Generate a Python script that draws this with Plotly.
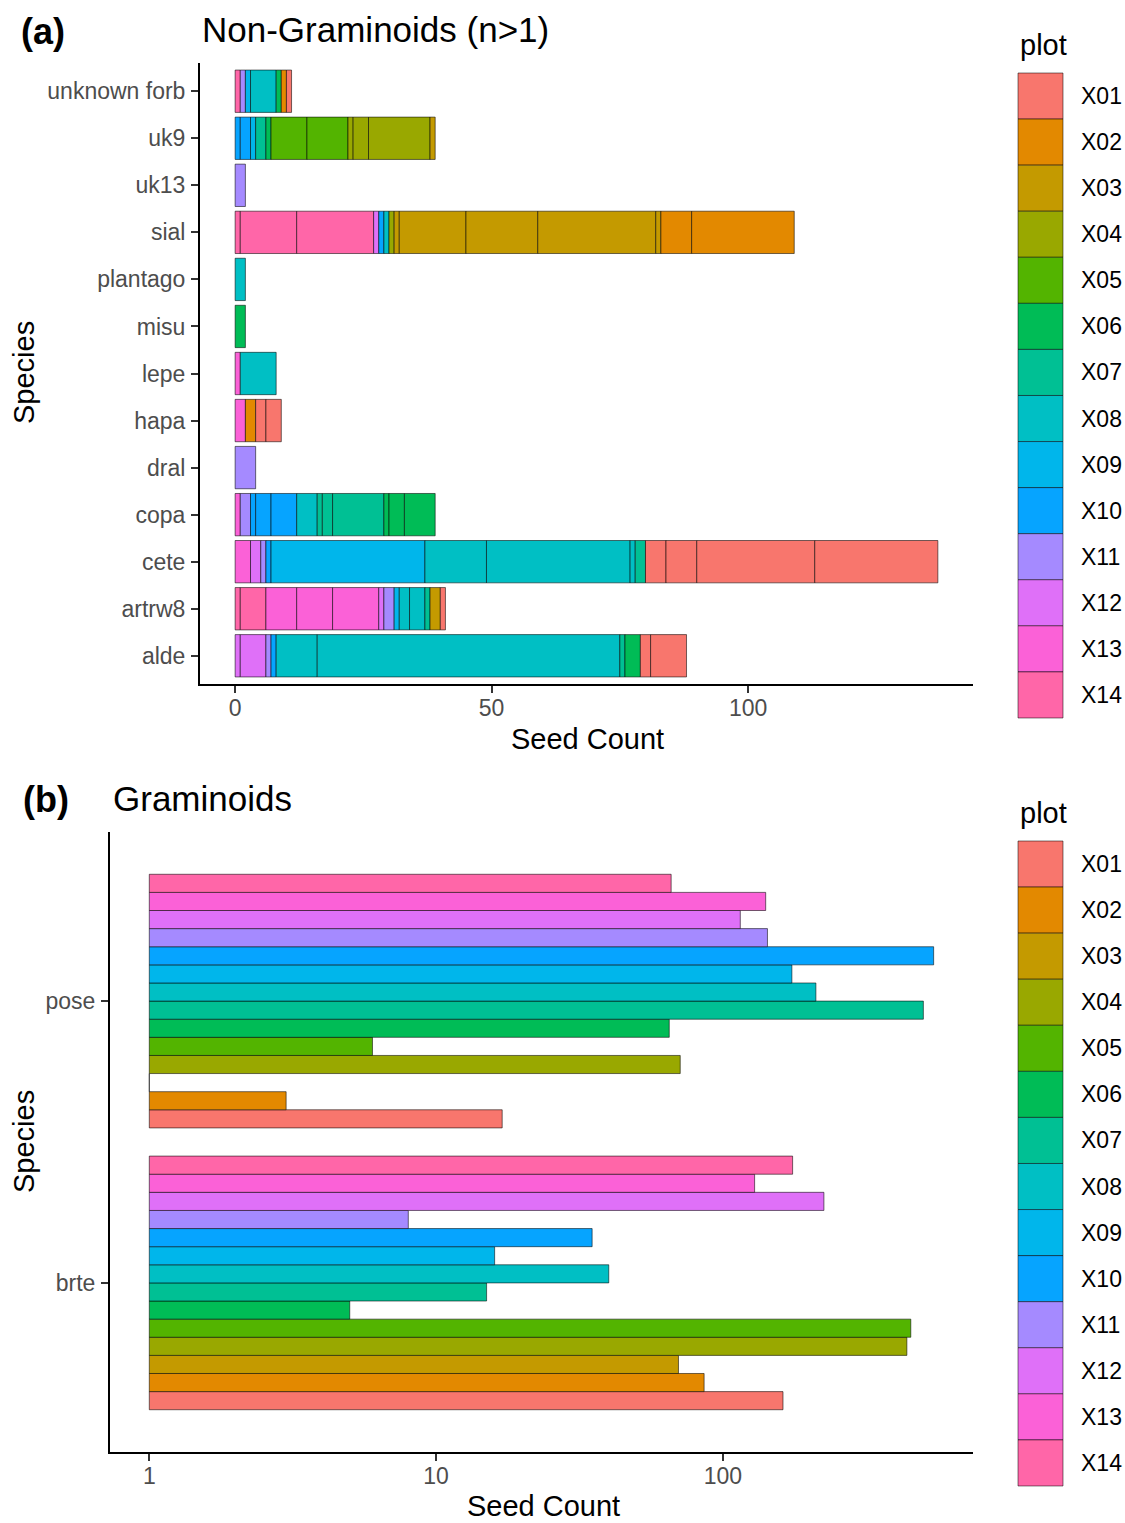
import plotly.graph_objects as go

# ---------------- data ----------------
plot_levels = ["X01", "X02", "X03", "X04", "X05", "X06", "X07",
               "X08", "X09", "X10", "X11", "X12", "X13", "X14"]
plot_colors = ["#F8766D", "#E38900", "#C49A00", "#99A800", "#53B400", "#00BC56", "#00C094",
               "#00BFC4", "#00B6EB", "#06A4FF", "#A58AFF", "#DF70F8", "#FB61D7", "#FF66A8"]

# panel (a): non-graminoid species, bottom to top
species_a = ["alde", "artrw8", "cete", "copa", "dral", "hapa", "lepe",
             "misu", "plantago", "sial", "uk13", "uk9", "unknown forb"]

# long-format observations (stacked left to right within each species)
seg_species = (["unknown forb"] * 7 + ["uk9"] * 11 + ["uk13"] * 1 + ["sial"] * 14 +
               ["plantago"] * 1 + ["misu"] * 1 + ["lepe"] * 2 + ["hapa"] * 4 +
               ["dral"] * 1 + ["copa"] * 12 + ["cete"] * 13 + ["artrw8"] * 13 + ["alde"] * 10)
seg_plot = [
    # unknown forb
    "X14", "X11", "X09", "X08", "X06", "X02", "X01",
    # uk9
    "X10", "X10", "X09", "X07", "X06", "X05", "X05", "X04", "X04", "X04", "X03",
    # uk13
    "X11",
    # sial
    "X14", "X14", "X14", "X12", "X10", "X08", "X04", "X03", "X03", "X03", "X03", "X03", "X02", "X02",
    # plantago
    "X08",
    # misu
    "X06",
    # lepe
    "X13", "X08",
    # hapa
    "X13", "X02", "X01", "X01",
    # dral
    "X11",
    # copa
    "X13", "X11", "X10", "X10", "X10", "X08", "X07", "X07", "X07", "X06", "X06", "X06",
    # cete
    "X13", "X12", "X11", "X10", "X09", "X08", "X08", "X08", "X07", "X01", "X01", "X01", "X01",
    # artrw8
    "X14", "X14", "X13", "X13", "X13", "X12", "X11", "X09", "X08", "X08", "X07", "X03", "X01",
    # alde
    "X12", "X12", "X11", "X10", "X08", "X08", "X07", "X06", "X01", "X01",
]
seg_count = [
    1, 1, 1, 5, 1, 1, 1,
    1, 2, 1, 2, 1, 7, 8, 1, 3, 12, 1,
    2,
    1, 11, 15, 1, 1, 1, 1, 1, 13, 14, 23, 1, 6, 20,
    2,
    2,
    1, 7,
    2, 2, 2, 3,
    4,
    1, 2, 1, 3, 5, 4, 1, 2, 10, 1, 3, 6,
    3, 2, 1, 1, 30, 12, 28, 1, 2, 4, 6, 23, 24,
    1, 5, 6, 7, 9, 1, 2, 1, 2, 3, 1, 2, 1,
    1, 5, 1, 1, 8, 59, 1, 3, 2, 7,
]

# panel (b): graminoids (one value per plot X01..X14)
species_b = ["brte", "pose"]
pose_counts = [17, 3, 1, 71, 6, 65, 500, 211, 174, 543, 143, 115, 141, 66]
brte_counts = [162, 86, 70, 438, 452, 5, 15, 40, 16, 35, 8, 225, 129, 175]

# ---------------- figure ----------------
W, H = 1125, 1523
FONT = "Liberation Sans, Arial, Helvetica, sans-serif"
EDGE = dict(color="rgba(0,0,0,0.55)", width=1)


def xp(px):
    return px / W


def yp(py):
    return 1 - py / H


color_of = dict(zip(plot_levels, plot_colors))
fig = go.Figure()

# panel (a) stacked segments
running = {s: 0 for s in species_a}
for sp, pl, ct in zip(seg_species, seg_plot, seg_count):
    fig.add_trace(go.Bar(
        y=[sp], x=[ct], base=[running[sp]], orientation="h",
        width=0.9, offset=-0.45,
        marker=dict(color=color_of[pl], line=EDGE),
        name=pl, showlegend=False, xaxis="x", yaxis="y",
        hovertemplate=f"{sp} {pl}: {ct}<extra></extra>"))
    running[sp] += ct

# panel (b) dodged bars on log scale
n = len(plot_levels)
bw = 0.9 / n
for i, pl in enumerate(plot_levels):
    vals = [brte_counts[i], pose_counts[i]]
    fig.add_trace(go.Bar(
        y=species_b, x=[v - 1 for v in vals], base=[1, 1], orientation="h",
        width=bw, offset=-0.45 + i * bw,
        marker=dict(color=plot_colors[i], line=EDGE),
        name=pl, showlegend=False, xaxis="x2", yaxis="y2",
        customdata=vals, hovertemplate="%{y} " + pl + ": %{customdata}<extra></extra>"))

axis_common = dict(
    showline=True, linecolor="black", linewidth=2,
    ticks="outside", ticklen=7, tickwidth=2, tickcolor="#333333",
    tickfont=dict(family=FONT, size=23, color="#4D4D4D"),
    showgrid=False, zeroline=False,
)

fig.update_layout(
    width=W, height=H, autosize=False,
    margin=dict(l=0, r=0, t=0, b=0),
    paper_bgcolor="white", plot_bgcolor="white",
    barmode="overlay",
    font=dict(family=FONT, color="black"),
    xaxis=dict(domain=[xp(200), xp(973)], anchor="y", range=[-6.85, 143.85],
               tickvals=[0, 50, 100], ticklabelstandoff=-5, **axis_common),
    yaxis=dict(domain=[yp(684), yp(63)], anchor="x", type="category",
               categoryorder="array", categoryarray=species_a, range=[-0.6, 12.6],
               ticklabelstandoff=1, **axis_common),
    xaxis2=dict(domain=[xp(110), xp(973)], anchor="y2", type="log", range=[-0.137, 2.872],
                tickvals=[1, 10, 100], ticktext=["1", "10", "100"],
                ticklabelstandoff=-5, **axis_common),
    yaxis2=dict(domain=[yp(1452), yp(832)], anchor="x2", type="category",
                categoryorder="array", categoryarray=species_b, range=[-0.6, 1.6],
                ticklabelstandoff=1, **axis_common),
    showlegend=False,
)

ann = []


def text(x, y, s, size, xanchor="left", bold=False, angle=0):
    ann.append(dict(x=xp(x), y=yp(y), xref="paper", yref="paper", text=(f"<b>{s}</b>" if bold else s),
                    showarrow=False, xanchor=xanchor, yanchor="middle", textangle=angle,
                    font=dict(family=FONT, size=size, color="black")))


# titles
text(19, 31, "(a)", 36, bold=True)
text(200, 30, "Non-Graminoids (n&gt;1)", 35)
text(21, 799, "(b)", 36, bold=True)
text(111, 798, "Graminoids", 35)
# axis titles
text(587, 739, "Seed Count", 29, xanchor="center")
text(543, 1506, "Seed Count", 29, xanchor="center")
text(24, 373, "Species", 29, xanchor="center", angle=-90)
text(24, 1142, "Species", 29, xanchor="center", angle=-90)

# legends (drawn as keys)
shapes = []
key_h = 46.07
for top0, title_y in [(73, 45), (841, 813)]:
    text(1018, title_y, "plot", 29)
    for i, pl in enumerate(plot_levels):
        t = top0 + i * key_h
        shapes.append(dict(type="rect", xref="paper", yref="paper",
                           x0=xp(1018), x1=xp(1063), y0=yp(t + key_h), y1=yp(t),
                           fillcolor=plot_colors[i], line=dict(color="rgba(0,0,0,0.5)", width=1)))
        text(1079, t + key_h / 2, pl, 23)

fig.update_layout(annotations=ann, shapes=shapes)
fig.write_html("out.html",
               config={"displayModeBar": False},
               post_script="document.body.style.margin='0px';document.body.style.overflow='hidden';")
